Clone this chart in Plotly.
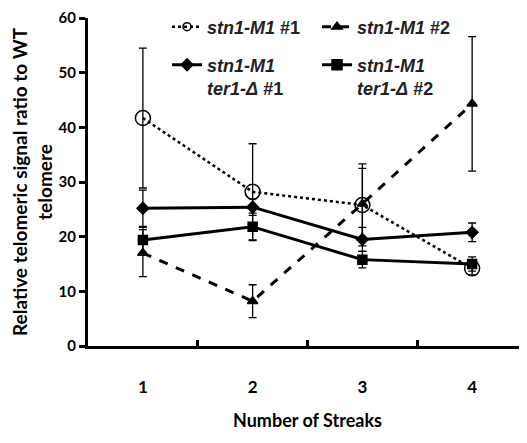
import plotly.graph_objects as go

streaks = [1, 2, 3, 4]
tick_labels = ["1", "2", "3", "4"]
y_ticks = [0, 10, 20, 30, 40, 50, 60]

m1_1 = [41.7, 28.2, 25.8, 14.2]
m1_1_err = [12.8, 8.8, 7.5, 1.2]
m1_2 = [17.0, 8.2, 26.0, 44.3]
m1_2_err = [4.3, 3.0, 6.5, 12.3]
ter_1 = [25.2, 25.4, 19.5, 20.8]
ter_1_err = [3.3, 1.5, 2.2, 1.7]
ter_2 = [19.4, 21.8, 15.8, 15.0]
ter_2_err = [2.3, 2.5, 1.5, 1.3]

names = [
    "<b><i>stn1-M1</i> #1</b>",
    "<b><i>stn1-M1</i> #2</b>",
    "<b><i>stn1-M1</i><br><i>ter1-Δ</i> #1</b>",
    "<b><i>stn1-M1</i><br><i>ter1-Δ</i> #2</b>",
]

fig = go.Figure()

def add(y, err, name, dash, symbol, size, width, legend, leg_size):
    fig.add_trace(go.Scatter(
        x=streaks, y=y, name=name, mode="lines+markers", showlegend=False,
        line=dict(color="black", width=width, dash=dash),
        marker=dict(symbol=symbol, size=size, color="black",
                    line=dict(color="black", width=1.5)),
        error_y=dict(type="data", array=err, visible=True, color="black",
                     thickness=1.3, width=4),
    ))
    # legend entry (no data drawn)
    fig.add_trace(go.Scatter(
        x=[None], y=[None], name=name, mode="lines+markers", legend=legend,
        line=dict(color="black", width=width, dash=dash),
        marker=dict(symbol=symbol, size=leg_size, color="black",
                    line=dict(color="black", width=1.5)),
    ))

add(m1_1, m1_1_err, names[0], "dot", "circle-open", 15, 2.5, "legend", 8)
add(m1_2, m1_2_err, names[1], "dash", "triangle-up", 9, 3, "legend", 9)
add(ter_1, ter_1_err, names[2], "solid", "diamond", 9, 3, "legend2", 9)
add(ter_2, ter_2_err, names[3], "solid", "square", 9, 3, "legend2", 10)

legend_font = dict(family="Liberation Sans, Arial, sans-serif", size=18, color="#222")

fig.update_layout(
    width=519, height=435,
    margin=dict(l=80, r=0, t=10, b=97),
    plot_bgcolor="white", paper_bgcolor="white",
    font=dict(family="Lato, Open Sans, sans-serif", color="black", size=14),
    showlegend=True,
    legend=dict(
        orientation="h", x=0.18, y=1.029, xanchor="left", yanchor="top",
        entrywidth=105, entrywidthmode="pixels", font=legend_font,
        bgcolor="rgba(0,0,0,0)",
    ),
    legend2=dict(
        orientation="h", x=0.18, y=0.913, xanchor="left", yanchor="top",
        entrywidth=105, entrywidthmode="pixels", font=legend_font,
        bgcolor="rgba(0,0,0,0)", valign="top",
    ),
    xaxis=dict(
        range=[0.5, 4.5], tickvals=streaks, ticktext=tick_labels,
        ticks="", showline=True, linecolor="black", linewidth=3,
        zeroline=False, showgrid=False, automargin=False,
        ticklabelstandoff=24, ticklabeloverflow="allow",
        tickfont=dict(size=17, family="Lato, sans-serif", weight="bold"),
        title=dict(text="<b>Number of Streaks</b>", font=dict(size=18), standoff=18),
        minor=dict(tickvals=[1.5, 2.5, 3.5], ticks="inside", ticklen=6,
                   tickwidth=3, tickcolor="black", showgrid=False),
    ),
    yaxis=dict(
        range=[0, 60], tickvals=y_ticks, ticks="outside", ticklen=6, tickwidth=3,
        tickcolor="black", showline=True, linecolor="black", linewidth=3,
        zeroline=False, showgrid=False, automargin=False,
        ticklabeloverflow="allow",
        tickfont=dict(size=15, family="Lato, sans-serif", weight="bold"),
        title=dict(text="<b>Relative telomeric signal ratio to WT<br>telomere</b>",
                   font=dict(size=19), standoff=7),
    ),
)

fig.write_html("out.html")
